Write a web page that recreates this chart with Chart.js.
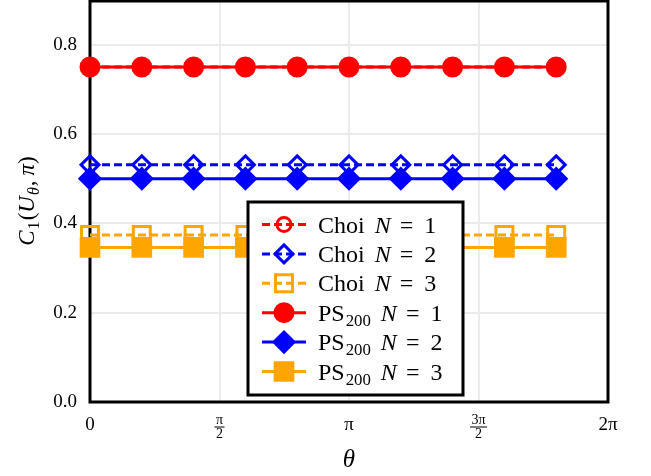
<!DOCTYPE html>
<html>
<head>
<meta charset="utf-8">
<script src="https://cdn.jsdelivr.net/npm/chart.js@4.4.0/dist/chart.umd.min.js"></script>
<style>
  html, body { margin: 0; padding: 0; background: #fff; }
  #wrap { width: 651px; height: 476px; }
</style>
</head>
<body>
<div id="wrap"><canvas id="grafico"></canvas></div>
<script>
// theta in units of pi
const theta = [0, 0.2, 0.4, 0.6, 0.8, 1.0, 1.2, 1.4, 1.6, 1.8];
const choiN1 = [0.75, 0.75, 0.75, 0.75, 0.75, 0.75, 0.75, 0.75, 0.75, 0.75];
const choiN2 = [0.531, 0.531, 0.531, 0.531, 0.531, 0.531, 0.531, 0.531, 0.531, 0.531];
const choiN3 = [0.374, 0.374, 0.374, 0.374, 0.374, 0.374, 0.374, 0.374, 0.374, 0.374];
const psN1 = [0.75, 0.75, 0.75, 0.75, 0.75, 0.75, 0.75, 0.75, 0.75, 0.75];
const psN2 = [0.5, 0.5, 0.5, 0.5, 0.5, 0.5, 0.5, 0.5, 0.5, 0.5];
const psN3 = [0.346, 0.346, 0.346, 0.346, 0.346, 0.346, 0.346, 0.346, 0.346, 0.346];

const xTicks = [0, 0.5, 1, 1.5, 2];
const xTickLabels = ['0', 'π/2', 'π', '3π/2', '2π'];
const yTicks = [0, 0.2, 0.4, 0.6, 0.8];

const serif = '"Liberation Serif", "DejaVu Serif", serif';

function pts(ys) {
  return theta.map((t, i) => ({ x: t, y: ys[i] }));
}

var series = [
  { name: 'Choi', n: 1, data: choiN1, color: 'red', style: 'circle', r: 7, hollow: true },
  { name: 'Choi', n: 2, data: choiN2, color: 'blue', style: 'rectRot', r: 9, hollow: true },
  { name: 'Choi', n: 3, data: choiN3, color: 'orange', style: 'rect', r: 12, hollow: true },
  { name: 'PS', n: 1, data: psN1, color: 'red', style: 'circle', r: 9, hollow: false },
  { name: 'PS', n: 2, data: psN2, color: 'blue', style: 'rectRot', r: 10, hollow: false },
  { name: 'PS', n: 3, data: psN3, color: 'orange', style: 'rect', r: 12.5, hollow: false }
];

var datasets = series.map(s => ({
  label: s.name + ' N = ' + s.n,
  data: pts(s.data),
  borderColor: s.color,
  backgroundColor: s.color,
  borderWidth: 3,
  borderDash: s.hollow ? [8, 4] : [],
  pointStyle: s.style,
  pointRadius: s.r,
  pointBorderWidth: 3,
  pointBorderColor: s.color,
  pointBackgroundColor: s.hollow ? 'rgba(0,0,0,0)' : s.color,
  order: s.hollow ? 1 : 0,
  clip: false
}));

// draw pieces of "math" text in a row
function drawPieces(ctx, pieces, x, y, size) {
  var cx = x;
  pieces.forEach(p => {
    var fs = p.sub ? size * 0.7 : size;
    ctx.font = (p.it ? 'italic ' : '') + fs + 'px ' + serif;
    ctx.fillText(p.t, cx, y + (p.sub ? size * 0.22 : 0));
    cx += ctx.measureText(p.t).width + (p.gap || 0);
  });
  return cx - x;
}
function piecesWidth(ctx, pieces, size) {
  var w = 0;
  pieces.forEach(p => {
    var fs = p.sub ? size * 0.7 : size;
    ctx.font = (p.it ? 'italic ' : '') + fs + 'px ' + serif;
    w += ctx.measureText(p.t).width + (p.gap || 0);
  });
  return w;
}

const framePlugin = {
  id: 'frame',
  beforeDatasetsDraw(chart) {
    const a = chart.chartArea, ctx = chart.ctx;
    ctx.save();
    ctx.strokeStyle = '#000';
    ctx.lineWidth = 3;
    ctx.strokeRect(a.left, a.top + 1, a.right - a.left, a.bottom - a.top - 1);
    ctx.restore();
  }
};

const labelsPlugin = {
  id: 'labels',
  afterDraw(chart) {
    const ctx = chart.ctx, xs = chart.scales.x;
    ctx.save();
    ctx.fillStyle = '#000';
    ctx.textAlign = 'center';
    ctx.textBaseline = 'middle';
    xTicks.forEach((v, i) => {
      const px = xs.getPixelForValue(v);
      const lab = xTickLabels[i];
      if (lab.indexOf('/') >= 0) {
        const parts = lab.split('/');
        ctx.font = '14px ' + serif;
        ctx.fillText(parts[0], px, 420);
        ctx.fillText(parts[1], px, 434);
        const w = ctx.measureText(parts[0]).width + 3;
        ctx.fillRect(px - w / 2, 426.5, w, 1);
      } else {
        ctx.font = '19px ' + serif;
        ctx.fillText(lab, px, 425);
      }
    });
    // x title
    ctx.font = 'italic 25px ' + serif;
    ctx.fillText('θ', (chart.chartArea.left + chart.chartArea.right) / 2, 460);

    // y title
    ctx.textAlign = 'left';
    ctx.textBaseline = 'alphabetic';
    const yt = [
      { t: 'C', it: true, gap: 1 }, { t: '1', sub: true, gap: 1 }, { t: '(' }, { t: 'U', it: true, gap: 1 },
      { t: 'θ', it: true, sub: true, gap: 1 }, { t: ',', gap: 5 }, { t: 'π', it: true }, { t: ')' }
    ];
    const w = piecesWidth(ctx, yt, 23);
    ctx.translate(34, (chart.chartArea.top + chart.chartArea.bottom) / 2);
    ctx.rotate(-Math.PI / 2);
    drawPieces(ctx, yt, -w / 2, 0, 23);
    ctx.restore();
  }
};

const legendPlugin = {
  id: 'caixaLegenda',
  afterDraw(chart) {
    const ctx = chart.ctx;
    const box = { l: 248, t: 202, r: 463, b: 395 };
    ctx.save();
    ctx.fillStyle = '#fff';
    ctx.fillRect(box.l, box.t, box.r - box.l, box.b - box.t);
    ctx.strokeStyle = '#000';
    ctx.lineWidth = 3;
    ctx.strokeRect(box.l, box.t, box.r - box.l, box.b - box.t);
    series.forEach((s, i) => {
      const y = 224.5 + i * 29.4;
      ctx.strokeStyle = s.color;
      ctx.lineWidth = 3;
      ctx.setLineDash(s.hollow ? [8, 4] : []);
      ctx.beginPath();
      ctx.moveTo(262, y);
      ctx.lineTo(306, y);
      ctx.stroke();
      ctx.setLineDash([]);
      ctx.fillStyle = s.hollow ? 'rgba(0,0,0,0)' : s.color;
      Chart.helpers.drawPoint(ctx, { pointStyle: s.style, radius: s.r, rotation: 0, borderWidth: 3 }, 284, y);
      ctx.fillStyle = '#000';
      ctx.textAlign = 'left';
      ctx.textBaseline = 'alphabetic';
      const pieces = [];
      if (s.name === 'PS') {
        pieces.push({ t: 'PS', gap: 1 }, { t: '200', sub: true, gap: 10 });
      } else {
        pieces.push({ t: 'Choi', gap: 10 });
      }
      pieces.push({ t: 'N', it: true, gap: 9 }, { t: '=', gap: 11 }, { t: String(s.n) });
      drawPieces(ctx, pieces, 318, y + 8, 24);
    });
    ctx.restore();
  }
};

new Chart(document.getElementById('grafico'), {
  type: 'line',
  data: { datasets: datasets },
  options: {
    responsive: true,
    maintainAspectRatio: false,
    animation: false,
    devicePixelRatio: 1,
    layout: { autoPadding: false, padding: { left: 0, right: 43, top: 0, bottom: 0 } },
    plugins: { legend: { display: false }, tooltip: { enabled: false } },
    scales: {
      x: {
        type: 'linear',
        min: 0,
        max: 2,
        afterBuildTicks: s => { s.ticks = xTicks.map(v => ({ value: v })); },
        afterFit: s => { s.height = 74; s.paddingLeft = 0; s.paddingRight = 0; },
        ticks: { display: false },
        grid: { color: '#ebebeb', lineWidth: 2, drawTicks: false },
        border: { display: false }
      },
      y: {
        min: 0,
        max: 0.9,
        afterBuildTicks: s => { s.ticks = yTicks.map(v => ({ value: v })); },
        afterFit: s => { s.width = 90; s.paddingTop = 0; s.paddingBottom = 0; },
        ticks: {
          color: '#000',
          padding: 13,
          font: { family: serif, size: 19 },
          callback: v => Number(v).toFixed(1)
        },
        grid: { color: '#ebebeb', lineWidth: 2, drawTicks: false },
        border: { display: false }
      }
    }
  },
  plugins: [framePlugin, labelsPlugin, legendPlugin]
});
</script>
</body>
</html>
